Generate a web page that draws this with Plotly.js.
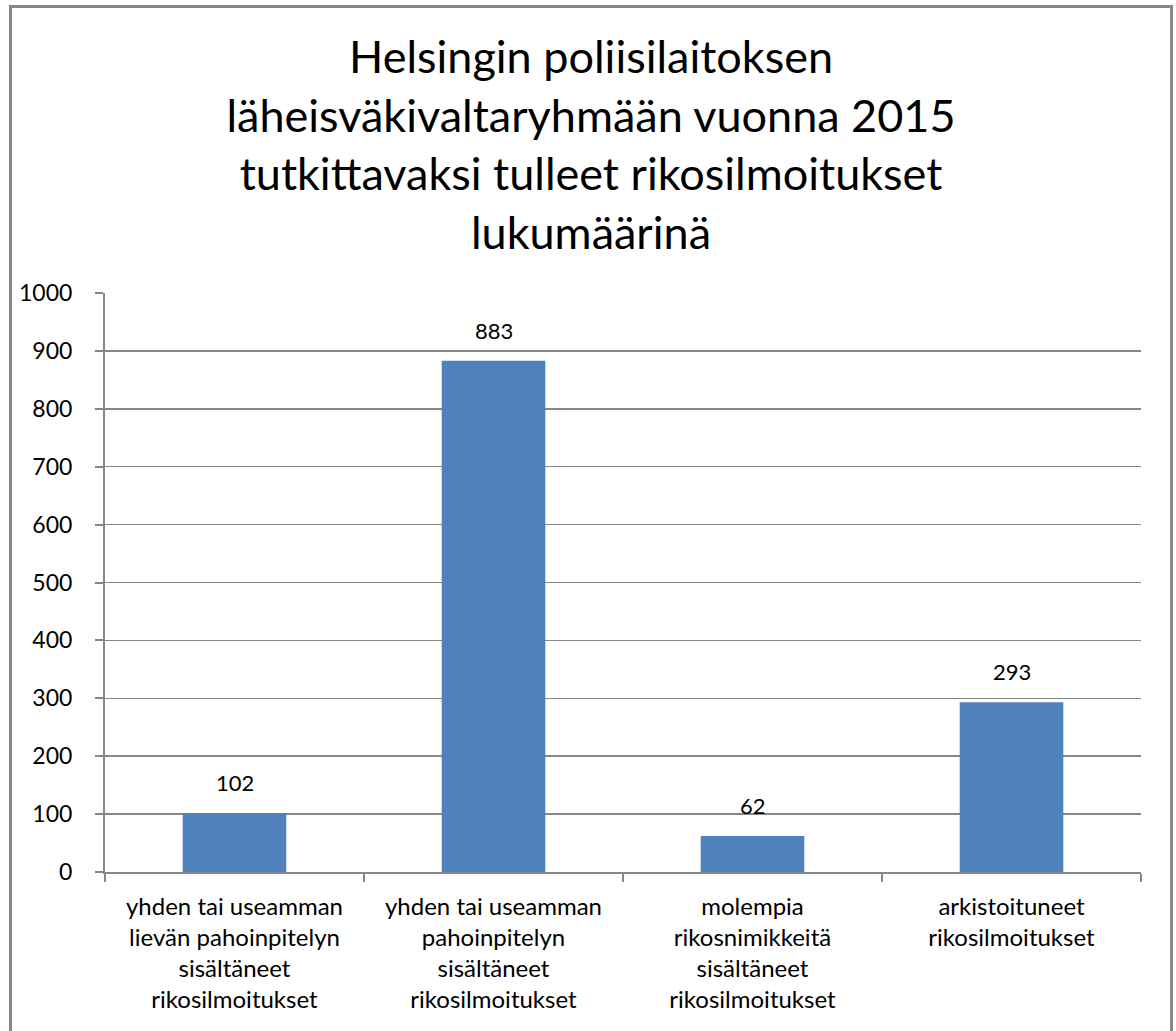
<!DOCTYPE html>
<html>
<head>
<meta charset="utf-8">
<script src="https://cdn.plot.ly/plotly-3.0.1.min.js"></script>
<style>
  html, body { margin: 0; padding: 0; background: #fff; overflow: hidden; }
  #frame { position: absolute; left: 9px; top: 5px; width: 1164px; height: 1060px;
           box-sizing: border-box; border: 3px solid #878787; border-bottom: none; background: #fff; }
  #chart { position: absolute; left: 0; top: 0; }
</style>
</head>
<body>
<div id="frame"><div id="chart"></div></div>
<script>
const categories = [
  "yhden tai useamman<br>lievän pahoinpitelyn<br>sisältäneet<br>rikosilmoitukset",
  "yhden tai useamman<br>pahoinpitelyn<br>sisältäneet<br>rikosilmoitukset",
  "molempia<br>rikosnimikkeitä<br>sisältäneet<br>rikosilmoitukset",
  "arkistoituneet<br>rikosilmoitukset"
];
const values = [102, 883, 62, 293];
const yTicks = [0, 100, 200, 300, 400, 500, 600, 700, 800, 900, 1000];
const titleText = "Helsingin poliisilaitoksen<br>läheisväkivaltaryhmään vuonna 2015<br>tutkittavaksi tulleet rikosilmoitukset<br>lukumäärinä";

const FONT = "Lato, 'Open Sans', sans-serif";

const trace = {
  type: "bar",
  x: categories,
  y: values,
  marker: { color: "#4F81BD" },
  hoverinfo: "x+y"
};

const labels = categories.map((c, i) => ({
  x: c, y: values[i], xref: "x", yref: "y",
  text: String(values[i]), showarrow: false,
  yanchor: "bottom", yshift: 15,
  font: { family: FONT, size: 22, color: "#000" }
}));

const layout = {
  width: 1158,
  height: 1026,
  margin: { l: 93, r: 29, t: 285, b: 162 },
  paper_bgcolor: "rgba(0,0,0,0)",
  plot_bgcolor: "#fff",
  showlegend: false,
  bargap: 0.6,
  font: { family: FONT, color: "#000" },
  annotations: labels,
  title: {
    text: titleText,
    font: { family: FONT, size: 45, color: "#000" },
    xref: "container", x: 0.5, xanchor: "center",
    yref: "container", y: 1 - 65 / 1026, yanchor: "middle"
  },
  xaxis: {
    type: "category",
    showline: true, linecolor: "#878787", linewidth: 2,
    ticks: "outside", ticklen: 8, tickcolor: "#878787", tickwidth: 2,
    tickson: "boundaries",
    showgrid: false,
    tickfont: { family: FONT, size: 24, color: "#000" },
    ticklabelstandoff: 12,
    fixedrange: true
  },
  yaxis: {
    range: [0, 1000],
    tickvals: yTicks,
    ticktext: yTicks.map(String),
    showline: true, linecolor: "#878787", linewidth: 2,
    ticks: "outside", ticklen: 8, tickcolor: "#878787", tickwidth: 2,
    showgrid: true, gridcolor: "#878787", gridwidth: 1.5,
    zeroline: false,
    tickfont: { family: FONT, size: 23, color: "#000" },
    ticklabelstandoff: 18,
    fixedrange: true
  }
};

Plotly.newPlot("chart", [trace], layout, { displayModeBar: false, staticPlot: true });
</script>
</body>
</html>
